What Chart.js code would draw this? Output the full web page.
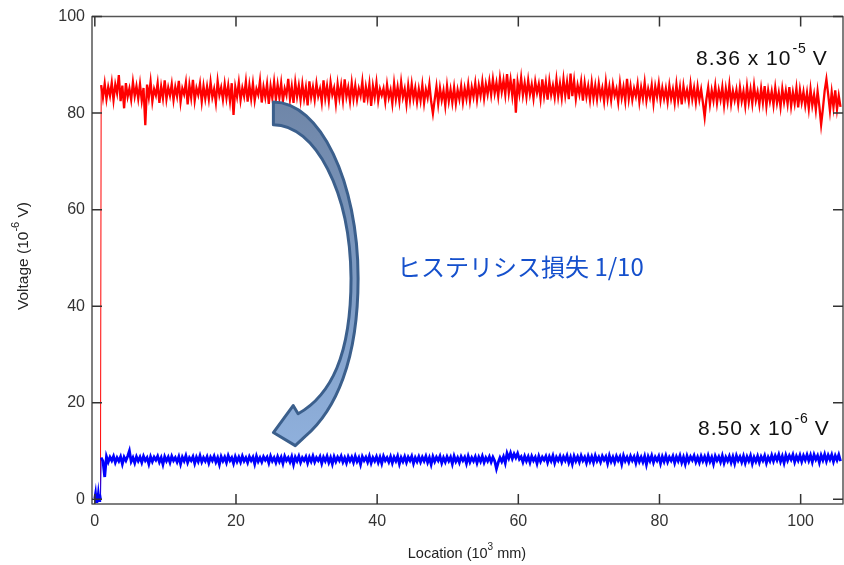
<!DOCTYPE html>
<html>
<head>
<meta charset="utf-8">
<script src="https://cdn.jsdelivr.net/npm/chart.js@4.4.1/dist/chart.umd.min.js"></script>
<style>
  html, body { margin: 0; padding: 0; background: #fff; }
  canvas { display: block; }
</style>
</head>
<body>
<canvas id="myChart" width="844" height="565"></canvas>
<script>
// tick labels
const xTicks = [0, 20, 40, 60, 80, 100];
const yTicks = [0, 20, 40, 60, 80, 100];

// sampling of the trace (location in 10^3 mm)
const sampleStart = 0.9;
const sampleStep = 0.25;

// before the signal comes up
const blueStartLoc = [0.0, 0.1, 0.2, 0.3, 0.4, 0.5, 0.6, 0.7, 0.8];
const blueStart = [0.2, 1.1, -0.5, 1.2, -0.4, 1.0, -0.3, 0.9, 0.0];
const redStartLoc = [0.8];
const redStart = [0.0];

// red trace: 8.36 x 10^-5 V (10^-6 V)
const redValues = [
  85.8, 83.2, 86.1, 82.9, 85.4, 83.6, 86.3, 82.7, 85.9, 84.1, 87.9, 82.5, 85.7, 81.0, 86.2, 83.4, 85.1, 82.8, 86.4, 83.5,
  85.6, 83.0, 86.0, 82.6, 85.2, 77.5, 85.9, 83.3, 86.5, 82.4, 85.0, 83.7, 86.2, 82.1, 85.5, 83.1, 86.8, 82.9, 85.3, 83.6,
  86.0, 82.7, 85.4, 83.5, 86.7, 82.3, 85.1, 83.9, 86.3, 81.8, 85.8, 83.2, 86.9, 82.6, 85.2, 83.8, 86.1, 82.4, 85.6, 83.0,
  85.5, 82.9, 86.4, 83.3, 85.0, 82.2, 86.6, 83.7, 85.3, 82.8, 86.0, 83.1, 85.7, 82.5, 86.2, 79.6, 85.4, 83.4, 86.3, 82.7,
  85.2, 83.5, 86.5, 82.4, 85.8, 83.0, 86.1, 82.6, 85.0, 83.8, 86.7, 82.2, 85.4, 83.3, 86.0, 81.9, 85.6, 83.1, 86.4, 82.8,
  85.9, 83.2, 86.2, 82.5, 85.1, 83.7, 87.1, 82.9, 85.5, 82.1, 86.3, 83.4, 85.7, 82.7, 86.0, 83.0, 85.3, 81.6, 86.6, 83.3,
  85.4, 82.8, 86.1, 83.5, 85.0, 82.3, 86.8, 83.1, 85.6, 82.6, 86.4, 83.8, 85.2, 82.0, 86.0, 83.2, 85.8, 82.7, 87.0, 83.4,
  85.3, 82.5, 86.2, 83.0, 85.7, 82.8, 85.1, 83.6, 86.5, 82.2, 85.4, 83.1, 86.0, 81.5, 85.6, 83.3, 86.3, 82.6, 85.0, 83.7,
  85.1, 82.4, 85.9, 83.2, 84.8, 82.0, 86.1, 82.9, 85.4, 82.5, 86.4, 83.3, 85.0, 81.9, 85.7, 82.7, 86.0, 83.0, 85.2, 82.3,
  85.0, 82.6, 85.8, 82.1, 84.9, 83.2, 86.0, 82.4, 79.9, 82.8, 85.5, 81.9, 85.2, 82.7, 84.7, 81.6, 85.6, 82.5, 84.9, 82.2,
  85.3, 82.0, 84.8, 82.9, 85.6, 82.3, 85.1, 83.0, 85.9, 82.6, 85.4, 83.4, 86.2, 82.8, 85.7, 83.6, 86.5, 83.1, 86.0, 83.9,
  86.6, 83.8, 87.0, 84.1, 86.3, 83.5, 87.2, 84.4, 86.8, 83.9, 88.1, 84.2, 86.9, 83.6, 87.1, 80.1, 86.4, 84.0, 87.3, 83.7,
  86.2, 83.4, 86.8, 83.9, 85.9, 83.1, 86.5, 84.2, 86.0, 83.0, 87.0, 83.6, 86.3, 82.8, 86.6, 83.8, 85.7, 83.3, 86.9, 83.5,
  86.1, 83.2, 87.0, 83.7, 86.4, 82.9, 88.2, 83.5, 86.7, 83.0, 85.8, 83.9, 86.5, 82.6, 86.2, 83.4, 85.6, 82.8, 86.3, 83.1,
  85.7, 82.9, 86.1, 83.4, 85.2, 82.5, 86.4, 83.0, 85.5, 82.7, 85.9, 83.6, 85.0, 82.3, 86.2, 83.2, 85.4, 82.6, 87.1, 83.0,
  85.6, 82.8, 85.1, 83.5, 86.0, 82.4, 85.3, 83.1, 86.3, 82.6, 85.0, 83.3, 85.8, 82.1, 85.5, 83.4, 86.1, 82.7, 85.2, 83.0,
  85.1, 82.4, 85.7, 83.0, 84.9, 82.2, 85.9, 82.7, 85.3, 81.8, 85.6, 83.1, 84.8, 82.5, 86.0, 82.9, 85.2, 82.3, 85.5, 82.8,
  84.9, 82.2, 79.2, 82.9, 85.3, 81.9, 84.7, 82.6, 85.6, 82.1, 84.8, 82.8, 85.4, 81.7, 85.0, 82.4, 85.8, 82.0, 84.6, 82.7,
  84.8, 81.9, 85.3, 82.5, 84.5, 81.6, 85.5, 82.3, 84.9, 82.0, 85.7, 82.6, 84.4, 81.8, 85.1, 82.2, 85.6, 81.5, 84.7, 82.4,
  84.5, 81.7, 85.2, 82.1, 84.2, 81.3, 85.0, 82.3, 84.6, 81.9, 85.4, 81.5, 84.3, 82.0, 85.1, 81.2, 84.8, 82.2, 84.4, 81.6,
  84.2, 81.0, 84.9, 81.6, 83.8, 80.7, 84.5, 81.4, 77.6, 80.9, 84.6, 87.0, 83.9, 80.5, 84.3, 81.2, 84.7, 80.8, 83.6, 81.3
];

// blue trace: 8.50 x 10^-6 V
const blueValues = [
  8.6, 7.9, 4.6, 8.8, 7.7, 8.7, 8.0, 8.9, 7.6, 8.6, 7.9, 8.8, 7.3, 8.7, 8.0, 8.9, 10.0, 7.8, 8.6, 7.5,
  8.8, 7.9, 8.7, 7.6, 8.9, 8.0, 8.6, 7.3, 8.8, 7.8, 8.7, 8.1, 8.9, 7.7, 8.6, 7.2, 8.8, 7.9, 8.7, 7.6,
  8.9, 8.0, 8.6, 7.7, 8.8, 7.3, 8.7, 7.9, 9.0, 7.6, 8.6, 8.0, 8.8, 7.4, 8.7, 7.8, 9.0, 7.7, 8.6, 7.9,
  8.8, 7.5, 8.7, 8.0, 8.9, 7.7, 8.6, 7.2, 8.8, 7.9, 8.7, 7.6, 9.0, 8.0, 8.6, 7.4, 8.8, 7.8, 8.7, 7.7,
  8.9, 7.9, 8.6, 7.6, 8.8, 8.0, 8.7, 7.3, 8.9, 7.8, 8.6, 7.7, 8.8, 8.1, 8.7, 7.5, 8.9, 7.9, 8.6, 7.6,
  8.8, 7.8, 8.7, 7.4, 8.9, 8.0, 8.6, 7.7, 8.8, 7.2, 8.7, 7.9, 8.9, 7.6, 8.6, 8.0, 8.8, 7.5, 8.7, 7.8,
  8.9, 7.7, 8.6, 8.0, 8.8, 7.4, 8.7, 7.9, 8.9, 7.6, 8.6, 7.3, 8.8, 7.8, 8.7, 8.0, 8.9, 7.7, 8.6, 7.5,
  8.8, 7.9, 8.7, 7.6, 8.9, 7.8, 8.6, 7.2, 8.8, 8.0, 8.7, 7.7, 8.9, 7.5, 8.6, 7.9, 8.8, 7.6, 8.7, 7.4,
  8.9, 8.0, 8.6, 7.7, 8.8, 7.5, 8.7, 7.9, 8.9, 7.3, 8.6, 7.8, 8.8, 7.6, 8.7, 8.0, 8.9, 7.4, 8.6, 7.8,
  8.8, 7.7, 8.7, 7.9, 8.9, 7.6, 8.6, 7.2, 8.8, 7.8, 8.7, 8.0, 8.9, 7.5, 8.6, 7.7, 8.8, 7.9, 8.7, 7.3,
  8.9, 7.8, 8.6, 7.6, 8.8, 8.0, 8.7, 7.4, 8.9, 7.7, 8.6, 7.9, 8.8, 7.5, 8.7, 7.8, 8.9, 7.6, 8.6, 7.9,
  8.8, 7.7, 8.7, 7.9, 6.3, 7.6, 8.6, 7.8, 8.8, 7.5, 9.5, 8.5, 9.6, 8.4, 9.4, 8.6, 9.5, 8.3, 8.8, 7.7,
  8.9, 7.9, 8.8, 7.6, 8.9, 8.0, 8.7, 7.4, 8.9, 7.8, 8.7, 8.1, 8.9, 7.6, 8.8, 7.9, 9.0, 7.5, 8.7, 8.0,
  8.9, 7.7, 8.8, 8.0, 9.0, 7.6, 8.7, 7.3, 8.9, 7.9, 8.8, 7.7, 9.0, 8.0, 8.7, 7.5, 8.9, 7.8, 8.8, 7.6,
  9.0, 7.9, 8.7, 7.7, 8.9, 8.1, 8.8, 7.4, 9.0, 7.8, 8.7, 7.6, 8.9, 8.0, 8.8, 7.3, 9.0, 7.9, 8.7, 7.7,
  8.9, 8.0, 8.8, 7.5, 9.0, 7.8, 8.7, 7.7, 8.9, 7.2, 8.8, 7.9, 9.0, 7.6, 8.7, 8.0, 8.9, 7.4, 8.8, 7.8,
  9.0, 7.7, 8.7, 8.0, 8.9, 7.5, 8.8, 7.9, 9.0, 7.6, 8.7, 7.3, 8.9, 7.8, 8.8, 8.1, 9.0, 7.7, 8.7, 7.6,
  8.9, 7.9, 8.8, 7.6, 9.0, 7.8, 8.7, 7.3, 8.9, 8.0, 8.8, 7.7, 9.0, 7.5, 8.7, 7.9, 8.9, 7.6, 8.8, 7.4,
  9.0, 8.0, 8.8, 7.7, 8.9, 7.5, 8.8, 7.9, 9.0, 7.4, 8.7, 7.8, 8.9, 7.6, 8.8, 8.0, 9.0, 7.5, 8.7, 7.9,
  9.1, 7.9, 9.0, 8.1, 9.2, 7.8, 8.9, 7.5, 9.1, 8.0, 9.0, 8.2, 9.2, 7.7, 8.9, 8.0, 9.1, 7.8, 9.0, 8.1,
  9.2, 8.0, 9.1, 7.7, 9.2, 8.2, 9.0, 7.6, 9.1, 8.1, 9.3, 7.9, 9.1, 8.2, 9.2, 7.8, 9.0, 8.1, 9.2, 7.9
];

// curved arrow outline, in data units (bezier chains)
const arrowOuter = [[25.3, 82.3], [31.9, 82.3], [37.3, 65.8], [37.3, 45.8], [37.3, 28.7], [34.1, 18.4], [29.8, 13.0]];
const arrowHead = [[28.4, 11.1], [25.3, 13.8], [28.1, 19.4], [28.8, 17.7]];
const arrowInner = [[33.4, 21.5], [36.3, 29.7], [36.3, 45.8], [36.2, 63.8], [31.2, 77.6], [25.3, 77.6]];

const sampleLoc = redValues.map((v, i) => sampleStart + i * sampleStep);
const toPoints = (xs, ys) => ys.map((v, i) => ({ x: xs[i], y: v }));

const blueData = toPoints(blueStartLoc, blueStart).concat(toPoints(sampleLoc, blueValues));
const redData = toPoints(redStartLoc, redStart).concat(toPoints(sampleLoc, redValues));

const FONT = "'Liberation Sans', Arial, sans-serif";
Chart.defaults.font.family = FONT;

// draws text pieces, some as superscript
function drawParts(ctx, parts, x, y, size, color) {
  let cx = x;
  ctx.fillStyle = color;
  ctx.textBaseline = 'alphabetic';
  ctx.textAlign = 'left';
  parts.forEach(p => {
    const fs = p.sup ? Math.round(size * 0.68) : size;
    ctx.font = fs + 'px ' + FONT;
    ctx.fillText(p.t, cx, p.sup ? y - size * 0.55 : y);
    cx += ctx.measureText(p.t).width + (p.gap || 0);
  });
  return cx - x;
}
function partsWidth(ctx, parts, size) {
  let w = 0;
  parts.forEach(p => {
    ctx.font = (p.sup ? Math.round(size * 0.68) : size) + 'px ' + FONT;
    w += ctx.measureText(p.t).width + (p.gap || 0);
  });
  return w;
}

const decorations = {
  id: 'decorations',
  afterDatasetsDraw(chart) {
    const { ctx, chartArea: a, scales: { x, y } } = chart;
    const P = pt => [x.getPixelForValue(pt[0]), y.getPixelForValue(pt[1])];
    ctx.save();

    // arrow
    const o = arrowOuter.map(P), h = arrowHead.map(P), n = arrowInner.map(P);
    ctx.beginPath();
    ctx.moveTo(...o[0]);
    ctx.bezierCurveTo(...o[1], ...o[2], ...o[3]);
    ctx.bezierCurveTo(...o[4], ...o[5], ...o[6]);
    h.forEach(p => ctx.lineTo(...p));
    ctx.bezierCurveTo(...n[0], ...n[1], ...n[2]);
    ctx.bezierCurveTo(...n[3], ...n[4], ...n[5]);
    ctx.closePath();
    const g = ctx.createLinearGradient(0, o[0][1], 0, h[0][1]);
    g.addColorStop(0, '#6f86a8');
    g.addColorStop(1, '#8fb0dc');
    ctx.fillStyle = g;
    ctx.fill();
    ctx.lineJoin = 'round';
    ctx.lineWidth = 3;
    ctx.strokeStyle = '#3b5f8c';
    ctx.stroke();

    // frame and inward ticks
    ctx.lineWidth = 1.5;
    ctx.strokeStyle = '#555';
    ctx.strokeRect(a.left, a.top, a.right - a.left, a.bottom - a.top);
    ctx.strokeStyle = '#333';
    ctx.beginPath();
    x.ticks.forEach(t => {
      const px = x.getPixelForValue(t.value);
      ctx.moveTo(px, a.bottom); ctx.lineTo(px, a.bottom - 10);
      ctx.moveTo(px, a.top); ctx.lineTo(px, a.top + 10);
    });
    y.ticks.forEach(t => {
      const py = y.getPixelForValue(t.value);
      ctx.moveTo(a.left, py); ctx.lineTo(a.left + 10, py);
      ctx.moveTo(a.right, py); ctx.lineTo(a.right - 10, py);
    });
    ctx.stroke();

    // axis titles
    const xt = [{ t: 'Location (10' }, { t: '3', sup: true }, { t: ' mm)' }];
    const xw = partsWidth(ctx, xt, 14.5);
    drawParts(ctx, xt, 467 - xw / 2, 558, 14.5, '#222');
    const yt = [{ t: 'Voltage (10' }, { t: '-6', sup: true }, { t: ' V)' }];
    const yw = partsWidth(ctx, yt, 15.5);
    ctx.save();
    ctx.translate(28, 256);
    ctx.rotate(-Math.PI / 2);
    drawParts(ctx, yt, -yw / 2, 0, 15.5, '#222');
    ctx.restore();

    // values
    ctx.letterSpacing = '1px';
    drawParts(ctx, [{ t: '8.36 x 10', gap: 1 }, { t: '-5', sup: true, gap: 6 }, { t: 'V' }], 696, 65, 21, '#111');
    drawParts(ctx, [{ t: '8.50 x 10', gap: 1 }, { t: '-6', sup: true, gap: 6 }, { t: 'V' }], 698, 435, 21, '#111');
    ctx.letterSpacing = '0px';

    ctx.font = "24px 'Noto Sans CJK JP', sans-serif";
    ctx.fillStyle = '#1550cc';
    ctx.textAlign = 'left';
    ctx.fillText('ヒステリシス損失 1/10', 397, 276);
    ctx.restore();
  }
};

// thin line where the trace jumps up from zero
const thinJump = idx => c => (c.p0DataIndex === idx ? 1 : undefined);

new Chart(document.getElementById('myChart'), {
  type: 'line',
  data: {
    datasets: [
      {
        label: 'low',
        data: blueData,
        borderColor: '#0000ff',
        borderWidth: 2.8,
        pointRadius: 0,
        tension: 0,
        segment: { borderWidth: thinJump(blueStartLoc.length - 1) }
      }, {
        label: 'high',
        data: redData,
        borderColor: '#ff0000',
        borderWidth: 2.3,
        pointRadius: 0,
        tension: 0,
        segment: { borderWidth: thinJump(0) }
      }]
  },
  options: {
    responsive: false,
    animation: false,
    devicePixelRatio: 1,
    layout: { padding: { top: 14, right: 1, left: 0, bottom: 0 } },
    scales: {
      x: {
        type: 'linear',
        min: -0.4,
        max: 106,
        afterBuildTicks: s => { s.ticks = xTicks.map(v => ({ value: v })); },
        afterFit: s => { s.height = 61; },
        grid: { display: false, drawTicks: false, tickLength: 0 },
        border: { display: false },
        ticks: { color: '#333', font: { size: 16 }, padding: 8, maxRotation: 0 }
      },
      y: {
        min: -1,
        max: 100,
        afterBuildTicks: s => { s.ticks = yTicks.map(v => ({ value: v })); },
        afterFit: s => { s.width = 92; },
        grid: { display: false, drawTicks: false, tickLength: 0 },
        border: { display: false },
        ticks: { color: '#333', font: { size: 16 }, padding: 7 }
      }
    },
    plugins: {
      legend: { display: false },
      tooltip: { enabled: false }
    }
  },
  plugins: [decorations]
});
</script>
</body>
</html>
